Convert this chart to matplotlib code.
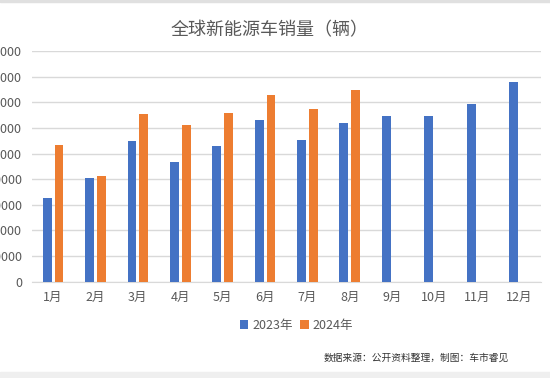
import numpy as np
import matplotlib.pyplot as plt
from matplotlib.patches import Rectangle

plt.rcParams['font.family'] = ['Noto Sans CJK SC', 'DejaVu Sans']

# data (vehicles per month)
months = ['1月', '2月', '3月', '4月', '5月', '6月', '7月', '8月', '9月', '10月', '11月', '12月']
sales_2023 = [656000, 812000, 1094000, 930000, 1055000, 1258000, 1102000, 1238000,
              1289000, 1289000, 1386000, 1555000]
sales_2024 = [1066000, 826000, 1312000, 1219000, 1320000, 1453000, 1344000, 1498000]
yticks = np.arange(0, 1800001, 200000)

blue = '#4472C4'
orange = '#ED7D31'
grey_text = '#595959'

fig = plt.figure(figsize=(5.5, 3.78), dpi=100)
ax = fig.add_axes([0.058, 0.255, 0.925, 0.61])

x = np.arange(len(months))
w = 0.21
ax.bar(x[:len(sales_2023)] - 0.14, sales_2023, width=w, color=blue, label='2023年', zorder=3)
ax.bar(x[:len(sales_2024)] + 0.14, sales_2024, width=w, color=orange, label='2024年', zorder=3)

ax.set_xlim(-0.5, 11.5)
ax.set_ylim(0, 1800000)
ax.set_yticks(yticks)
ax.set_yticklabels([str(v) for v in yticks])
ax.set_xticks(x)
ax.set_xticklabels(months)
ax.tick_params(axis='both', length=0, labelsize=9, colors=grey_text)
ax.tick_params(axis='y', pad=7)
ax.tick_params(axis='x', pad=7)
ax.grid(axis='y', color='#D9D9D9', linewidth=1, zorder=0)
for s in ['top', 'right', 'left']:
    ax.spines[s].set_visible(False)
ax.spines['bottom'].set_color('#D9D9D9')

fig.text(0.49, 0.92, '全球新能源车销量（辆）', ha='center', va='center',
         fontsize=13, color=grey_text)

ax.legend(loc='center', bbox_to_anchor=(0.52, -0.19), ncol=2, frameon=False,
          fontsize=9, handlelength=0.7, handleheight=0.7, handletextpad=0.3,
          columnspacing=0.6, labelcolor=grey_text)

fig.text(0.925, 0.053, '数据来源：公开资料整理，制图：车市睿见', ha='right', va='center',
         fontsize=7, color='#333333')

# light grey bands at top and bottom edges
fig.patches.append(Rectangle((0, 0.995), 1, 0.005, transform=fig.transFigure,
                             color='#E0E0E0', zorder=0))
fig.patches.append(Rectangle((0, 0), 1, 0.016, transform=fig.transFigure,
                             color='#EFEFEF', zorder=0))

fig.savefig('out.png', dpi=100)
